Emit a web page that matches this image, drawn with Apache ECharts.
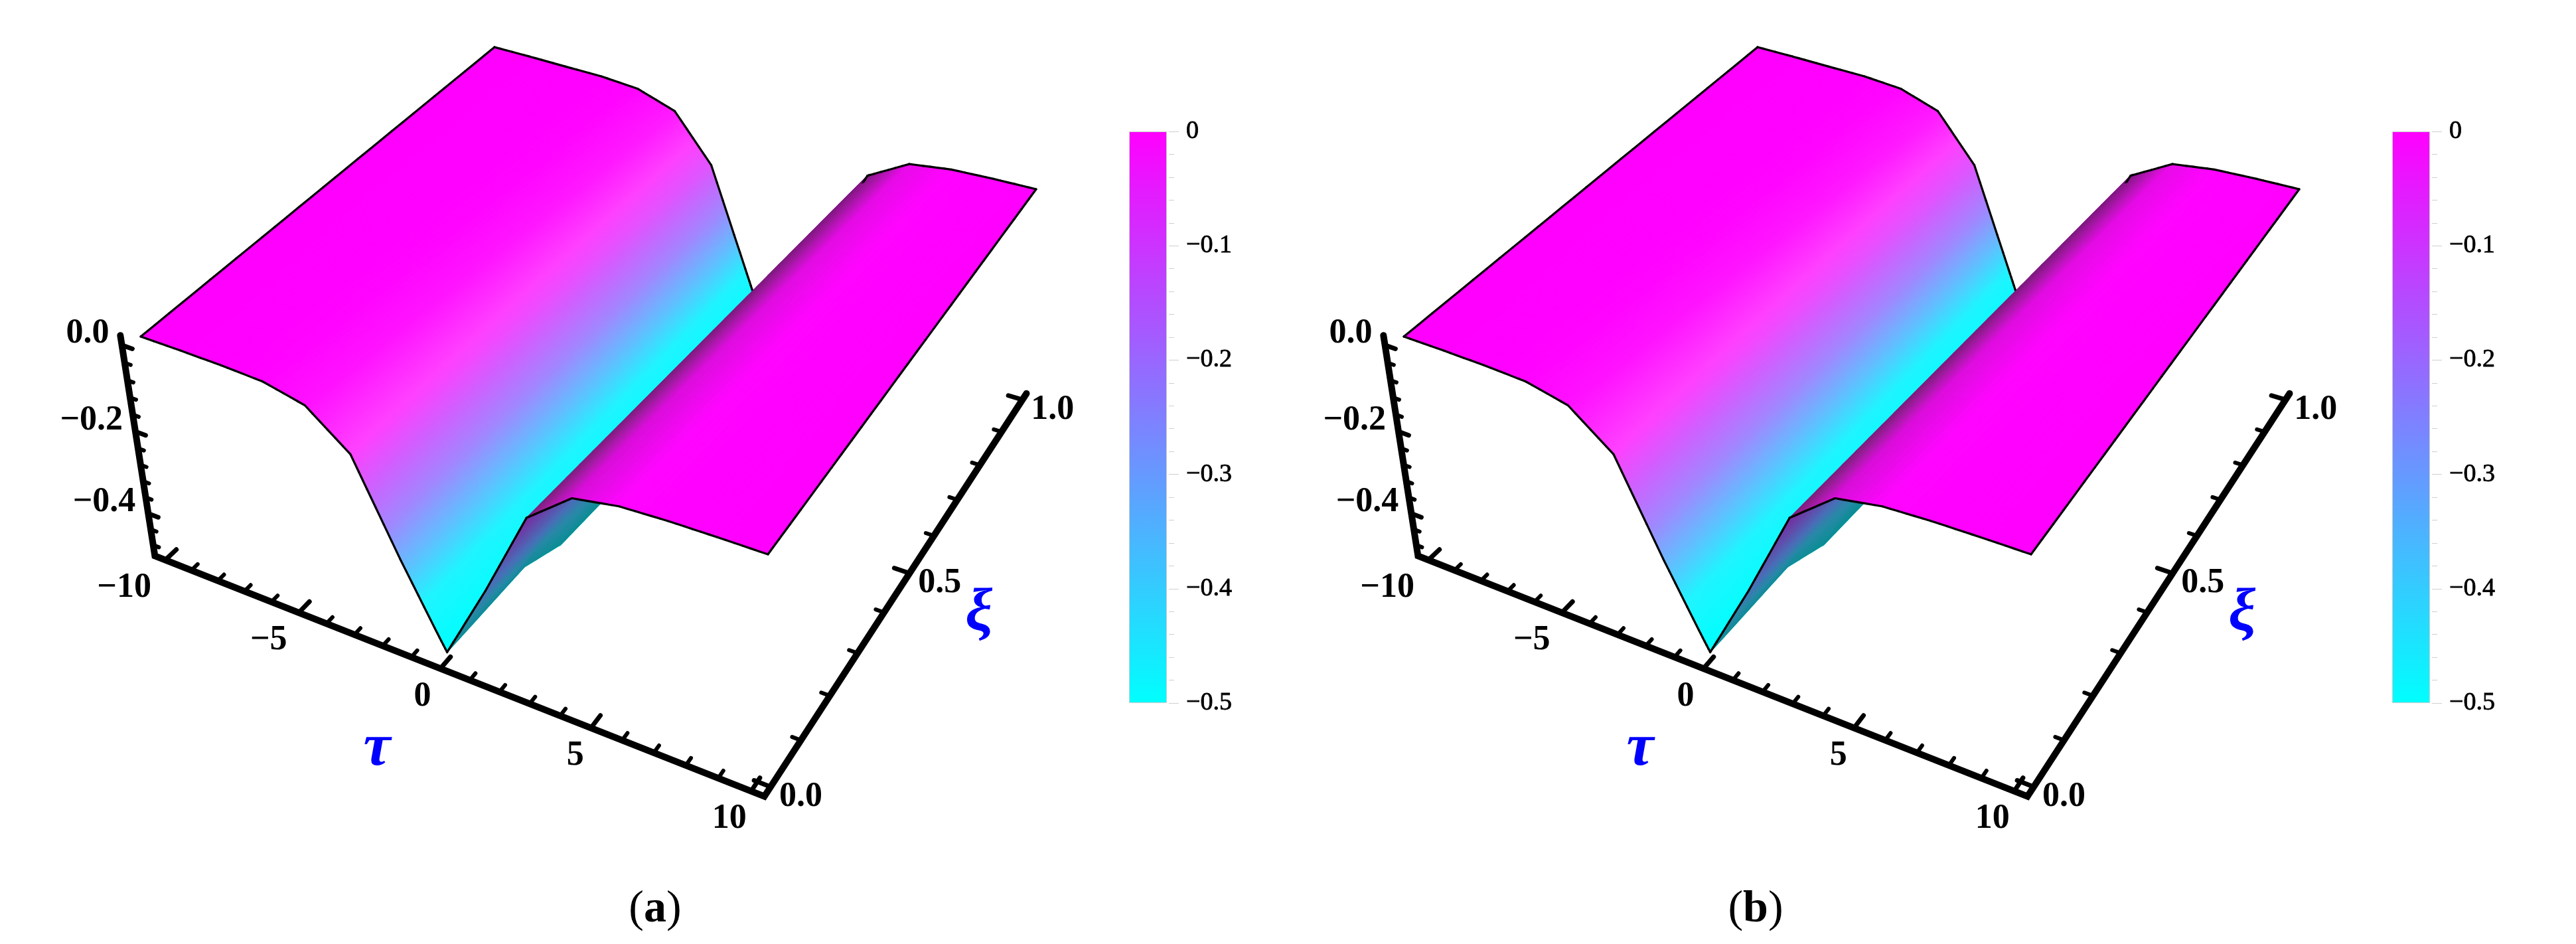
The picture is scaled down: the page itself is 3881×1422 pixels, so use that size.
<!DOCTYPE html>
<html>
<head>
<meta charset="utf-8">
<title>surface</title>
<style>
html,body{margin:0;padding:0;background:#fff;}
#main{width:3881px;height:1422px;}
</style>
</head>
<body>
<div id="main"></div>
<script src="https://cdn.jsdelivr.net/npm/echarts@6/dist/echarts.min.js"></script>
<script>
// mesh read off the outlines of the surface
// the mesh lines run slanted: column j of the front edge joins column j of the back edge
var frontTau = [-10,-10,-8.57,-7.14,-5.71,-4.29,-2.86,-1.43,-0.35,0,1.43,2.86,4.29,5.71,7.14,8.57,10];
var frontZ = [0,0,-0.0005,-0.002,-0.006,-0.027,-0.103,-0.31,-0.455,-0.5,-0.31,-0.105,-0.026,-0.008,-0.003,-0.001,0];  // xi = 0
var backTau = [-10,-8.57,-7.14,-5.71,-4.29,-2.86,-1.43,0,0.34,1.43,2.86,4.29,5.71,7.14,8.57,10,10];
var backZ = [0,-0.0005,-0.002,-0.003,-0.01,-0.041,-0.151,-0.395,-0.453,-0.49,-0.28,-0.073,-0.019,-0.006,-0.002,0,0];  // xi = 1
// bottom of the trough along xi
var floorXi = [0,0.2,0.3,1];
var floorZ = [-0.5,-0.48,-0.515,-0.49];

var tauTicks = [-10,-9,-8,-7,-6,-5,-4,-3,-2,-1,0,1,2,3,4,5,6,7,8,9,10];
var tauLabels = [-10,-5,0,5,10];
var xiTicks = [0,0.1,0.2,0.3,0.4,0.5,0.6,0.7,0.8,0.9,1];
var xiLabels = [0,0.5,1];
var zTicks = [0,-0.04,-0.08,-0.12,-0.16,-0.2,-0.24,-0.28,-0.32,-0.36,-0.4,-0.44,-0.48];
var zLabels = [0,-0.2,-0.4];
var barTicks = {min:-0.5, max:0, step:0.1};
var panelNames = ['a','b'];

// lit colours of the upper side, and the darker under side
var topZ = [0,-0.05,-0.1,-0.17,-0.25,-0.33,-0.4,-0.5];
var topColors = ['#ff00ff','#ff20ff','#ff40ff','#d060ff','#a088ff','#60c0ff','#20f4ff','#00ffff'];
var underZ = [-0.1,-0.3,-0.4,-0.5];
var underColors = ['#7a2aa0','#4a70b8','#2a8aa8','#0e8e96'];

// camera, (tau,xi,z) -> page
var camX = [803.6,695.9,-130,212];
var camY = [225.95,-420.48,-740,507];
var camW = [-0.12222,0.2186,-0.1375,1];

function project(tau,xi,z){
	var s = (tau+10)/20;
	var w = camW[0]*s+camW[1]*xi+camW[2]*z+camW[3];
	return [(camX[0]*s+camX[1]*xi+camX[2]*z+camX[3])/w,
		(camY[0]*s+camY[1]*xi+camY[2]*z+camY[3])/w, w];
}

function lerp(a,b,t){ return a+(b-a)*t; }

function hex(c){
	return [parseInt(c.slice(1,3),16),parseInt(c.slice(3,5),16),parseInt(c.slice(5,7),16)];
}

function pick(zs,colors,z){
	if(z>=zs[0]) return hex(colors[0]);
	for(var i=1;i<zs.length;i++){
		if(z>=zs[i]){
			var t = (zs[i-1]-z)/(zs[i-1]-zs[i]);
			var c0 = hex(colors[i-1]), c1 = hex(colors[i]);
			return [lerp(c0[0],c1[0],t),lerp(c0[1],c1[1],t),lerp(c0[2],c1[2],t)];
		}
	}
	return hex(colors[colors.length-1]);
}

var lastCol = frontTau.length-1;
var floorCol = 9;

function colZ(j,xi){
	if(j==floorCol){
		for(var i=1;i<floorXi.length;i++){
			if(xi<=floorXi[i])
				return lerp(floorZ[i-1],floorZ[i],(xi-floorXi[i-1])/(floorXi[i]-floorXi[i-1]));
		}
		return floorZ[floorZ.length-1];
	}
	return lerp(frontZ[j],backZ[j],xi);
}

function colTau(j,xi){
	return lerp(frontTau[j],backTau[j],xi);
}

// only the slope that rises out of the trough goes dark
function colShade(j,xi){
	if(j<=floorCol) return 1;
	var a = j-1, b = Math.min(j+1,lastCol);
	var dt = colTau(b,xi)-colTau(a,xi);
	if(dt<=0) return 1;
	var slope = (colZ(b,xi)-colZ(a,xi))/dt-0.008;
	if(slope<=0) return 1;
	return Math.max(1-6*slope,0.48);
}

function vertex(j,a,xi){
	return {tau:lerp(colTau(j,xi),colTau(j+1,xi),a), z:lerp(colZ(j,xi),colZ(j+1,xi),a), xi:xi,
		shade:lerp(colShade(j,xi),colShade(j+1,xi),a)};
}

function buildSurface(){
	var list = [], R = 30;
	for(var j=0;j<lastCol;j++){
		// steep columns get finer strips, the colour changes fast there
		var dz = Math.max(Math.abs(frontZ[j+1]-frontZ[j]),Math.abs(backZ[j+1]-backZ[j]));
		var M = Math.max(8,Math.ceil(dz*320));
		for(var a=0;a<M;a++){
			for(var r=0;r<R;r++){
				var v = [vertex(j,a/M,r/R),vertex(j,(a+1)/M,r/R),vertex(j,(a+1)/M,(r+1)/R),vertex(j,a/M,(r+1)/R)];
				var pts = v.map(function(p){ return project(p.tau,p.xi,p.z); });
				var area = (pts[1][0]-pts[0][0])*(pts[3][1]-pts[0][1])-(pts[1][1]-pts[0][1])*(pts[3][0]-pts[0][0]);
				var zc = (v[0].z+v[1].z+v[2].z+v[3].z)/4;
				var sc = (v[0].shade+v[1].shade+v[2].shade+v[3].shade)/4;
				var c;
				if(area>0){
					c = pick(underZ,underColors,zc);
				}
				else{
					c = pick(topZ,topColors,zc);
					c = [c[0]*sc,c[1]*sc,c[2]*sc];
				}
				list.push({kind:'cell', pts:pts, depth:(pts[0][2]+pts[2][2])/2,
					color:'rgb('+Math.round(c[0])+','+Math.round(c[1])+','+Math.round(c[2])+')'});
			}
		}
	}
	// black rim, cut in short pieces so that the sort can hide it
	function rim(points){
		for(var i=0;i+1<points.length;i++){
			list.push({kind:'rim', pts:[points[i],points[i+1]], depth:(points[i][2]+points[i+1][2])/2-0.012});
		}
	}
	[0,1].forEach(function(xi){
		var line = [];
		for(var j=0;j<lastCol;j++){
			for(var a=0;a<6;a++){
				var p = vertex(j,a/6,xi);
				line.push(project(p.tau,p.xi,p.z));
			}
		}
		var e = vertex(lastCol-1,1,xi);
		line.push(project(e.tau,e.xi,e.z));
		rim(line);
	});
	[-10,10].forEach(function(tau){
		var line = [];
		for(var r=0;r<=R;r++) line.push(project(tau,r/R,0));
		rim(line);
	});
	list.sort(function(a,b){ return b.depth-a.depth; });
	return list;
}

function labelText(v,digits){
	var t = Math.abs(v).toFixed(digits);
	return (v<0?'\u2212':'')+t;
}

function buildAxes(name,captionX){
	var list = [];
	var tauPad = 0.4, xiPad = 0.02, zLow = -0.52, zHigh = 0.01, zShift = -0.012;
	var font = 'bold 52px "Liberation Serif"';
	list.push({kind:'axis', pts:[project(-10-tauPad,-xiPad,zHigh),project(-10-tauPad,-xiPad,zLow),
		project(10+tauPad,-xiPad,zLow),project(10+tauPad,1+xiPad,zLow)]});
	tauTicks.forEach(function(t){
		var big = tauLabels.indexOf(t)>=0;
		list.push({kind:'tick', big:big, pts:[project(t,-xiPad,zLow),project(t,-xiPad+(big?0.028:0.016),zLow)]});
	});
	xiTicks.forEach(function(x){
		var big = xiLabels.indexOf(x)>=0;
		list.push({kind:'tick', big:big, pts:[project(10+tauPad,x,zLow),project(10+tauPad-(big?0.5:0.27),x,zLow)]});
	});
	zTicks.forEach(function(z){
		var big = zLabels.indexOf(z)>=0;
		list.push({kind:'tick', big:big, pts:[project(-10-tauPad,-xiPad,z+zShift),project(-10-tauPad+(big?0.38:0.22),-xiPad,z+zShift)]});
	});
	tauLabels.forEach(function(t){
		var p = project(t,-xiPad,zLow);
		list.push({kind:'text', x:p[0]-14+t*0.7, y:p[1]+42, text:labelText(t,0), font:font, align:'right', fill:'#000'});
	});
	xiLabels.forEach(function(x){
		var p = project(10+tauPad,x,zLow);
		list.push({kind:'text', x:p[0]+13, y:p[1]+15, text:x.toFixed(1), font:font, align:'left', fill:'#000'});
	});
	zLabels.forEach(function(z){
		var p = project(-10-tauPad,-xiPad,z+zShift);
		list.push({kind:'text', x:p[0]-19, y:p[1]-17, text:labelText(z,1), font:font, align:'right', fill:'#000'});
	});
	var greek = 'italic bold 92px "Liberation Serif"';
	list.push({kind:'text', x:568, y:1128, text:'\u03c4', font:greek, align:'center', fill:'#0000ff'});
	list.push({kind:'text', x:1475, y:925, text:'\u03be', font:greek, align:'center', fill:'#0000ff'});
	list.push({kind:'text', x:captionX, y:1370, text:'({n|'+name+'})', font:'68px "Liberation Serif"', align:'center', fill:'#000',
		rich:{n:{font:'bold 68px "Liberation Serif"', fill:'#000'}}});
	return list;
}

function surfaceSeries(index,captionX){
	var items = buildAxes(panelNames[index],captionX).concat(buildSurface());
	return {
		type:'custom',
		coordinateSystem:'cartesian2d',
		xAxisIndex:index,
		yAxisIndex:index,
		silent:true,
		animation:false,
		clip:false,
		progressive:0,
		data:items.map(function(it,i){ return [i]; }),
		renderItem:function(params,api){
			var it = items[params.dataIndex];
			if(it.kind=='text'){
				var c = api.coord([it.x,it.y]);
				return {type:'text', style:{x:c[0], y:c[1], text:it.text, font:it.font, fill:it.fill,
					textAlign:it.align, textVerticalAlign:'middle', rich:it.rich}};
			}
			var pts = it.pts.map(function(p){ return api.coord([p[0],p[1]]); });
			if(it.kind=='cell')
				return {type:'polygon', shape:{points:pts}, style:{fill:it.color, stroke:it.color, lineWidth:1.2}};
			if(it.kind=='rim')
				return {type:'polyline', shape:{points:pts}, style:{fill:null, stroke:'#000', lineWidth:3.2, lineCap:'round'}};
			if(it.kind=='axis')
				return {type:'polyline', shape:{points:pts}, style:{fill:null, stroke:'#000', lineWidth:10, lineCap:'round', lineJoin:'miter'}};
			return {type:'polyline', shape:{points:pts}, style:{fill:null, stroke:'#000', lineWidth:it.big?7:6, lineCap:'round'}};
		}
	};
}

function barSeries(index){
	return {
		type:'bar',
		xAxisIndex:index,
		yAxisIndex:index,
		silent:true,
		animation:false,
		barWidth:'100%',
		data:[barTicks.min],
		itemStyle:{
			borderColor:'#cccccc',
			borderWidth:1,
			color:new echarts.graphic.LinearGradient(0,0,0,1,[
				{offset:0,color:'#ff00ff'},
				{offset:1,color:'#00ffff'}
			])
		}
	};
}

var panelShift = 1903, panelW = 1978;
var gridList = [], xList = [], yList = [];
[0,1].forEach(function(i){
	gridList.push({left:i*panelShift, top:0, width:panelW, height:1422});
	xList.push({type:'value', gridIndex:i, min:0, max:panelW, show:false});
	yList.push({type:'value', gridIndex:i, min:0, max:1422, inverse:true, show:false});
});
[0,1].forEach(function(i){
	gridList.push({left:1701+i*panelShift, top:198, width:57, height:861});
	xList.push({type:'category', gridIndex:i+2, data:[''], show:false});
	yList.push({
		type:'value', gridIndex:i+2, position:'right', offset:3,
		min:barTicks.min, max:barTicks.max, interval:barTicks.step,
		splitLine:{show:false},
		axisLine:{show:false},
		axisTick:{show:true, length:15, lineStyle:{color:'#cfcfcf', width:1}},
		minorTick:{show:true, splitNumber:5, length:8, lineStyle:{color:'#cfcfcf', width:1}},
		axisLabel:{
			margin:26,
			color:'#000',
			fontFamily:'Liberation Serif',
			fontSize:38,
			textBorderColor:'#000',
			textBorderWidth:0.8,
			formatter:function(v){ return v==0?'0':'\u2212'+Math.abs(v).toFixed(1); }
		}
	});
});

var chart = echarts.init(document.getElementById('main'),null,{renderer:'canvas'});
chart.setOption({
	backgroundColor:'#fff',
	animation:false,
	grid:gridList,
	xAxis:xList,
	yAxis:yList,
	series:[surfaceSeries(0,987),surfaceSeries(1,742),barSeries(2),barSeries(3)]
});
</script>
</body>
</html>
